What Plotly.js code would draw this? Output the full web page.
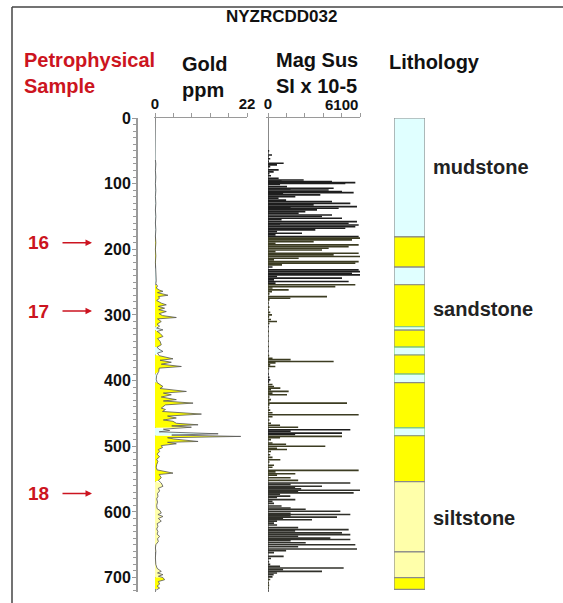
<!DOCTYPE html>
<html>
<head>
<meta charset="utf-8">
<script src="https://cdn.plot.ly/plotly-3.0.1.min.js"></script>
<style>html,body{margin:0;padding:0;background:#fff}#chart{width:563px;height:603px}</style>
</head>
<body>
<div id="chart"></div>
<script>
// ---------------- DATA ----------------
const holeName = 'NYZRCDD032';
const depthTicks = [0, 100, 200, 300, 400, 500, 600, 700];
const goldRange = [0, 22];
const magRange = [0, 6100];

const goldDepth = [64,70,80,90,100,110,120,130,140,150,160,170,180,190,200,210,220,230,240,248,252,256,259,262,264,266,270,272,274.5,278,282,284.6,287,289.7,292,294.8,298,301,303.9,306,310,314,317,320,322.7,325,328,332.8,336,340,345.5,349,352,355.6,358,362,366.8,369,372,375,378.5,381,386,392,398,403,406,409,412,416.5,419,421.6,425,429,431,434.3,437,441.9,444,447,451,454,457,460,462,465,467.3,469,471,474,476,478,481,483,485,487,489,492.7,494,496.2,499,502,505,508,512,516,520,523,528,532,536,540.9,543,548,552,556,561,564,568,572,576.4,580,585,590,595,598,601.8,604,607,610,614,618,622,626,630,634,637.3,641,645,650,655,660,670,680,686,690.6,693,695.6,698,700,703.3,706,710,713,716,719];
const goldPpm = [0.1,0.2,0.1,0.2,0.1,0.2,0.1,0.2,0.1,0.2,0.1,0.2,0.1,0.2,0.1,0.2,0.1,0.2,0.2,0.3,0.2,0.6,0.3,1.0,1.9,0.6,3.1,0.8,1.1,0.4,1.5,2.7,0.8,2.3,0.9,2.7,1.0,1.8,5.1,0.6,1.5,0.5,1.1,0.4,1.9,0.5,1.2,1.9,0.6,1.2,1.5,0.5,0.9,1.9,0.6,1.0,4.3,1.2,3.9,1.5,6.3,1.0,0.9,0.4,0.3,0.5,1.2,1.9,1.2,7.5,2.0,3.9,1.5,5.1,2.0,9.1,2.5,1.5,2.5,1.8,11.1,3.0,5.1,2.0,4.3,5.1,10.3,4.0,8.7,2.0,3.5,1.0,15.1,4.0,20.5,3.0,4.5,10.3,3.0,5.1,1.5,1.8,0.8,1.1,0.5,1.1,0.4,0.7,0.4,0.3,0.5,4.3,1.0,1.5,0.8,1.5,1.9,0.8,1.1,0.6,0.7,0.4,0.6,0.4,0.5,1.2,1.5,0.7,1.9,0.8,1.5,0.5,0.7,0.4,0.7,0.5,1.1,0.6,0.8,0.2,0.1,0.2,0.1,0.2,0.5,1.5,0.6,1.9,0.8,1.9,2.3,0.8,1.1,0.5,1.1,0.3];

const magDepth = [45,50,53,56.3,59,62,66,69,71.5,74,79,82,85,88,92,94.4,96,97,98.4,99.5,101,104.5,107,108,109.6,112,113.7,115,117,119.8,122,125,127.4,130,131,132.4,135,136,137.5,140,142.6,145,147.7,150,152.7,155,157.8,160.4,161.5,163,165.4,168,170.5,173,175.6,178,180.6,183,185.7,188.3,191,193.3,196,198.4,201,203.5,206,208.5,211,213.6,216,218.7,221,223.8,227,231.4,234,236.5,239,241.5,244,246.5,249,251.5,254,256.8,259,261.8,264.4,268,272,274.5,277,282,288,292,296,299.8,303,307,310,313,318,325,332,340,348,355,362,366,368,370.9,373,376,378.5,382,390,395,398.8,402,406,409,411.5,414,416.5,419,421.6,425,429,431,434.3,437,441,445,449,452,455,460,465,468,471,474.9,477,480,482,485,487,490,495,497,500,503,505,508,513,517,520.5,524,529,532,536.8,539,541.9,544,548,552,556,558,561,563,565,567,569,571,573,576,578,581.4,584,587,591,594,596,599,602,604,606,608,610,612,614,617,620,624,627,629,632,634.7,637,640,642,644,647,650,653,656.5,659,662,667.7,671,676,680,683,685.5,688,690.5,693,695.6,699,703,708,712,716,720];
const magSus = [0,80,20,265,40,150,60,1038,597,150,707,376,100,200,707,2365,900,4243,5790,5127,800,1260,4353,1500,4022,4906,5679,1000,3470,1812,700,1200,4243,5459,1000,3028,5900,1500,4685,3249,2475,2033,4243,3580,4906,900,5900,5348,800,6011,5790,5127,3138,600,2254,500,6011,6100,5569,3028,500,6011,5348,4022,3580,500,6011,4353,6100,2033,400,6011,5790,928,300,6011,6100,5569,6100,600,4906,400,5348,500,5790,4464,300,1370,265,100,3912,1480,100,50,100,50,150,265,80,200,597,100,50,60,40,50,60,40,80,300,1500,4353,500,150,486,80,60,100,155,80,300,400,818,200,1370,300,1260,100,200,100,5238,100,80,150,300,6011,300,100,200,800,2000,5459,1500,4906,1800,4906,800,200,300,1200,3800,600,1260,200,150,300,818,100,400,300,6011,500,1812,600,1500,2000,5459,1500,3580,1800,2200,6100,2000,5679,800,1480,600,1812,300,400,900,1500,2500,4796,1500,5459,1500,4575,1000,2917,600,400,600,2000,5348,1800,4906,5459,2000,4132,5459,1500,2500,5790,2000,5900,1200,400,1038,200,80,150,800,5017,1000,3580,600,376,300,150,60,80,50,30];

const lithTop  = [0,181,227,254,318,323,349,361,390,403,472,484,554,661,700];
const lithBase = [181,227,254,318,323,349,361,390,403,472,484,554,661,700,718];
const lithType = ['mudstone','sandstone','mudstone','sandstone','mudstone','sandstone','mudstone','sandstone','mudstone','sandstone','mudstone','sandstone','siltstone','siltstone','sandstone'];
const lithLabels = ['mudstone','sandstone','siltstone'];
const lithLabelDepth = [75, 291, 609];

const sampleIds = ['16','17','18'];
const sampleDepth = [190, 294, 572];

// ---------------- STYLE ----------------
const W = 563, H = 603;
const px = v => v / W;
const py = v => 1 - v / H;
const lithColor = {mudstone:'#e0ffff', sandstone:'#ffff00', siltstone:'#ffffaa'};
const magColor = {mudstone:'#1e1e1e', sandstone:'#3c3c22', siltstone:'#30302a'};
const FONT = 'Liberation Sans, Arial, sans-serif';
const RED = '#cc1420';
const lithAt = d => { for (let i = 0; i < lithTop.length; i++) if (d >= lithTop[i] && d < lithBase[i]) return lithType[i]; return 'mudstone'; };

const traces = [];
// gold fills coloured by lithology
for (let i = 0; i < lithTop.length; i++) {
  const ys = [lithTop[i]], xs = [0];
  for (let k = 0; k < goldDepth.length; k++) {
    if (goldDepth[k] >= lithTop[i] && goldDepth[k] <= lithBase[i]) { ys.push(goldDepth[k]); xs.push(goldPpm[k]); }
  }
  ys.push(lithBase[i]); xs.push(0);
  if (ys.length > 2) traces.push({type:'scatter', mode:'lines', x:xs, y:ys, xaxis:'x', yaxis:'y',
    fill:'tozerox', fillcolor:lithColor[lithType[i]], line:{width:0}, hoverinfo:'skip'});
}
traces.push({type:'scatter', mode:'lines', x:goldPpm, y:goldDepth, xaxis:'x', yaxis:'y',
  line:{color:'#555', width:0.8}, hoverinfo:'skip'});
// mag sus as a bar log
traces.push({type:'bar', orientation:'h', x:magSus, y:magDepth, width:2.5, xaxis:'x2', yaxis:'y',
  marker:{color:magDepth.map(d => magColor[lithAt(d)]), line:{width:0}}, hoverinfo:'skip'});
// lithology column
traces.push({type:'bar', orientation:'v', x:lithTop.map(() => 0), y:lithTop.map((t,i) => lithBase[i]-t),
  base:lithTop, width:1, xaxis:'x3', yaxis:'y',
  marker:{color:lithType.map(t => lithColor[t]),
    line:{color:lithBase.map((b,i) => (b - lithTop[i] < 15 ? '#7ccf7c' : '#8a8a8a')), width:1.2}},
  hoverinfo:'skip'});

const annotations = [];
const hdr = (t, x, y, size, color, anchor) => ({text:'<b>'+t+'</b>', x:px(x), y:py(y), xref:'paper', yref:'paper',
  xanchor:anchor || 'left', yanchor:'middle', align:'left', showarrow:false, font:{family:FONT, size:size, color:color}});
annotations.push(hdr(holeName, 281, 17, 17, '#111', 'center'));
annotations.push(hdr('Petrophysical<br>Sample', 22, 73, 20, RED));
annotations.push(hdr('Gold<br>ppm', 180, 77, 20, '#111'));
annotations.push(hdr('Mag Sus<br>SI x 10-5', 274, 73, 20, '#111'));
annotations.push(hdr('Lithology', 387, 62, 20, '#111'));
annotations.push({text:'<b>'+magRange[1]+'</b>', x:magRange[1], y:py(104), xref:'x2', yref:'paper', xanchor:'right', yanchor:'middle', showarrow:false, font:{family:FONT, size:15, color:'#111'}});
lithLabels.forEach((t,i) => annotations.push({text:'<b>'+t+'</b>', x:px(431), y:lithLabelDepth[i], xref:'paper', yref:'y', xanchor:'left', yanchor:'middle', showarrow:false, font:{family:FONT, size:20, color:'#222'}}));
sampleIds.forEach((s,i) => {
  annotations.push({text:'<b>'+s+'</b>', x:px(38), y:sampleDepth[i], xref:'paper', yref:'y', xanchor:'center', yanchor:'middle', showarrow:false, font:{family:FONT, size:19, color:RED}});
  annotations.push({text:'', x:px(92), y:sampleDepth[i], xref:'paper', yref:'y', showarrow:true, ax:-31, ay:0, arrowhead:2, arrowsize:1, arrowwidth:1.3, arrowcolor:RED});
});

const axLine = '#9a9a9a';
const layout = {
  width:W, height:H, margin:{l:0, r:0, t:0, b:0}, paper_bgcolor:'#fff', plot_bgcolor:'rgba(0,0,0,0)',
  showlegend:false, barmode:'overlay',
  font:{family:FONT, color:'#111'},
  yaxis:{domain:[py(592), py(118)], range:[722, 0], anchor:'free', position:px(136), side:'left',
    tickvals:depthTicks, ticks:'outside', ticklen:4, tickcolor:axLine, showline:true, linecolor:axLine, linewidth:1.5,
    showgrid:false, zeroline:false, ticklabelstandoff:-2, tickfont:{family:FONT, size:16, weight:'bold', color:'#111'},
    minor:{dtick:10, tick0:0, ticks:'outside', ticklen:3, tickcolor:axLine, showgrid:false}},
  xaxis:{domain:[px(155 - 0.25*92/22), px(247)], range:[-0.25, goldRange[1]], anchor:'y', side:'top',
    tickvals:goldRange, ticks:'outside', ticklen:4, tickcolor:axLine, showline:true, linecolor:axLine, linewidth:1.2,
    showgrid:false, zeroline:true, zerolinecolor:'#888', zerolinewidth:1, ticklabelstandoff:-2,
    tickfont:{family:FONT, size:15, weight:'bold', color:'#111'},
    minor:{dtick:4.4, tick0:0, ticks:'outside', ticklen:4, tickcolor:axLine, showgrid:false}},
  xaxis2:{domain:[px(268 - 100*92/6100), px(360)], range:[-100, magRange[1]], anchor:'y', side:'top',
    tickvals:magRange, ticktext:['0', ''], ticks:'outside', ticklen:4, tickcolor:axLine, showline:true, linecolor:axLine, linewidth:1.2,
    showgrid:false, zeroline:true, zerolinecolor:'#888', zerolinewidth:1, ticklabelstandoff:-2,
    tickfont:{family:FONT, size:15, weight:'bold', color:'#111'},
    minor:{dtick:1220, tick0:0, ticks:'outside', ticklen:4, tickcolor:axLine, showgrid:false}},
  xaxis3:{domain:[px(394), px(425)], range:[-0.5, 0.5], anchor:'y', visible:false, fixedrange:true},
  annotations:annotations,
  shapes:[
    {type:'line', xref:'paper', yref:'paper', x0:px(12), x1:px(12), y0:0, y1:py(7), line:{color:'#444', width:1.5}},
    {type:'line', xref:'paper', yref:'paper', x0:px(12), x1:1, y0:py(7), y1:py(7), line:{color:'#444', width:1.5}}
  ]
};

Plotly.newPlot('chart', traces, layout, {staticPlot:true, displayModeBar:false});
</script>
</body>
</html>
